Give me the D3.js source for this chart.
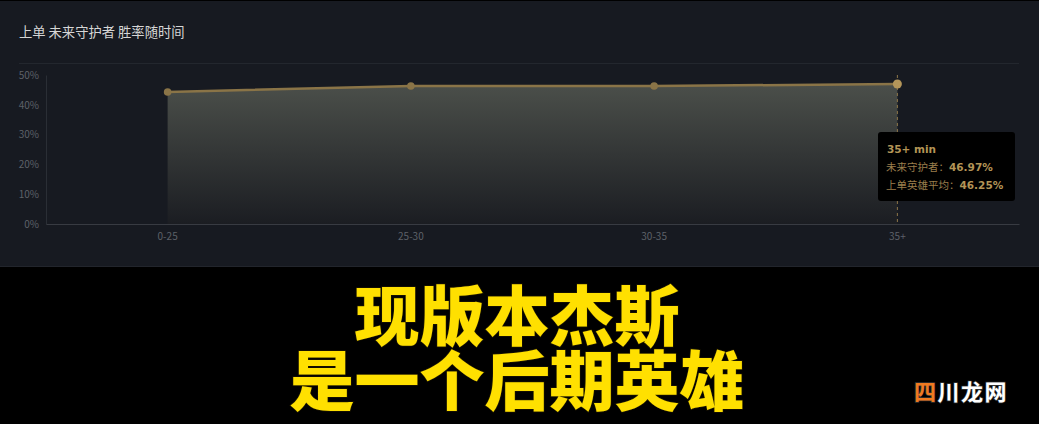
<!DOCTYPE html>
<html><head><meta charset="utf-8">
<script src="https://cdn.jsdelivr.net/npm/d3@7"></script>
<style>
html,body{margin:0;padding:0;background:#000;}
svg{display:block;}
</style></head>
<body>
<svg id="c" width="1039" height="424"></svg>
<script>
const categories = ["0-25","25-30","30-35","35+"];
const heroWinRate = [44.3, 46.3, 46.3, 46.97];
const laneAverage = [46.1, 46.2, 46.2, 46.25];
const yTicks = [0,10,20,30,40,50];
const title = "上单 未来守护者 胜率随时间";
const tooltipIndex = 3;
const captionLines = ["现版本杰斯","是一个后期英雄"];

const svg = d3.select("#c");
const W = 1039;
const FONT = "'Noto Sans CJK SC','Noto Sans',sans-serif";

// panel
svg.append("rect").attr("x",0).attr("y",0).attr("width",W).attr("height",424).attr("fill","#000");
svg.append("rect").attr("x",0).attr("y",1).attr("width",W).attr("height",265).attr("fill","#171a21");
svg.append("line").attr("x1",0).attr("x2",W).attr("y1",266.5).attr("y2",266.5).attr("stroke","#22252c");

svg.append("text").attr("x",19).attr("y",37).attr("fill","#d6d6d6")
  .attr("font-family",FONT).attr("font-size",13.3).text(title);
svg.append("line").attr("x1",19).attr("x2",1019).attr("y1",63.5).attr("y2",63.5).attr("stroke","#23272e");

const x = d3.scaleBand().domain(categories).range([46,1019]);
const y = d3.scaleLinear().domain([0,50]).range([224,75]);
const cx = d => x(d)+x.bandwidth()/2;

const defs = svg.append("defs");
const grad = defs.append("linearGradient").attr("id","g").attr("x1",0).attr("x2",0).attr("y1",0).attr("y2",1);
grad.append("stop").attr("offset","0%").attr("stop-color","#4b4f4a");
grad.append("stop").attr("offset","100%").attr("stop-color","#1b1d22");

// axes
const yAxis = svg.append("g").attr("transform","translate(46,0)")
  .call(d3.axisLeft(y).tickValues(yTicks).tickFormat(d=>d+"%").tickSize(0).tickPadding(7));
yAxis.select(".domain").attr("stroke","#2a2e35");
yAxis.selectAll("text").attr("fill","#5d6168").attr("font-family",FONT).attr("font-size",10);

const xAxis = svg.append("g").attr("transform","translate(0,224)")
  .call(d3.axisBottom(x).tickSize(0).tickPadding(9));
xAxis.select(".domain").attr("stroke","#383b42");
xAxis.selectAll("text").attr("fill","#5d6168").attr("font-family",FONT).attr("font-size",10);

const pts = categories.map((c,i)=>({c, v:heroWinRate[i]}));
svg.append("path").datum(pts)
  .attr("d", d3.area().x(d=>cx(d.c)).y0(y(0)).y1(d=>y(d.v)))
  .attr("fill","url(#g)");

// dashed hover line
svg.append("line").attr("x1",cx(categories[tooltipIndex])).attr("x2",cx(categories[tooltipIndex]))
  .attr("y1",75).attr("y2",224).attr("stroke","#8c7648").attr("stroke-dasharray","3,3");

svg.append("path").datum(pts)
  .attr("d", d3.line().x(d=>cx(d.c)).y(d=>y(d.v)))
  .attr("fill","none").attr("stroke","#8a7447").attr("stroke-width",2.5);

svg.selectAll("circle.p").data(pts).join("circle")
  .attr("cx",d=>cx(d.c)).attr("cy",d=>y(d.v))
  .attr("r",(d,i)=>i===tooltipIndex?4.5:3.8)
  .attr("fill",(d,i)=>i===tooltipIndex?"#b4965a":"#8a7447");

// tooltip
const tx = 878, ty = 132;
const tt = svg.append("g").attr("transform",`translate(${tx},${ty})`);
tt.append("rect").attr("width",137).attr("height",69).attr("rx",3).attr("fill","#000");
tt.append("text").attr("x",9).attr("y",21).attr("fill","#b39456").attr("font-weight","bold")
  .attr("font-family","'DejaVu Sans',sans-serif").attr("font-size",10.5).text(categories[tooltipIndex]+" min");
const row = (yy, label, val) => {
  const t = tt.append("text").attr("x",8).attr("y",yy).attr("font-family",FONT).attr("font-size",10.5);
  t.append("tspan").attr("fill","#9a7e4c").text(label+"：");
  t.append("tspan").attr("fill","#b39456").attr("font-weight","bold")
   .attr("font-family","'DejaVu Sans',sans-serif").text(val.toFixed(2)+"%");
};
row(39,"未来守护者",heroWinRate[tooltipIndex]);
row(57,"上单英雄平均",laneAverage[tooltipIndex]);

// caption (single text element, two lines)
const cap = svg.append("text").attr("text-anchor","middle")
  .attr("font-family",FONT).attr("font-weight",900).attr("font-size",65)
  .attr("fill","#ffe000").attr("stroke","#1a1400").attr("stroke-width",1.5)
  .attr("paint-order","stroke");
captionLines.forEach((l,i)=>{
  cap.append("tspan").attr("x",517).attr("y",[340,405][i]).text(l);
});

// watermark
const wm = svg.append("text").attr("x",914).attr("y",400).attr("font-family",FONT)
  .attr("font-size",22).attr("letter-spacing",1.5).attr("font-weight","bold")
  .attr("stroke","#333").attr("stroke-width",1.5).attr("paint-order","stroke");
wm.append("tspan").attr("fill","#f07a20").text("四");
wm.append("tspan").attr("fill","#ffffff").text("川龙网");
</script>
</body></html>
